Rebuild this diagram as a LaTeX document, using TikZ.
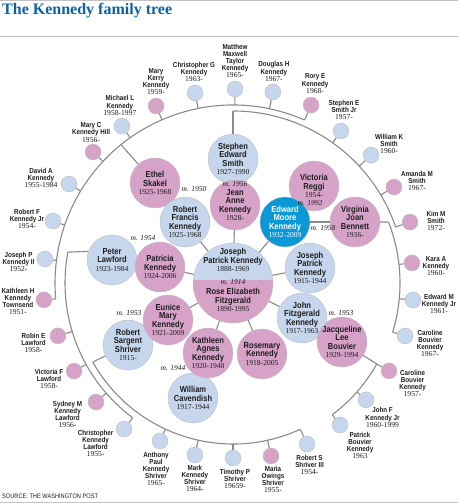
\documentclass[tikz,border=0pt]{standalone}
\usepackage{fontspec}
\setmainfont{Liberation Serif}
\newfontfamily\agate[FakeStretch=0.87]{Liberation Sans}
\usepackage{xcolor}
\usetikzlibrary{calc}
\definecolor{cBlue}  {HTML}{C6D6EC}
\definecolor{cPink}  {HTML}{D7A2C8}
\definecolor{cTed}   {HTML}{0A98D6}
\definecolor{cLine}  {HTML}{8A8A8A}
\definecolor{cRule}  {HTML}{C2C2C2}
\definecolor{cTitle} {HTML}{0A63A6}
\definecolor{cInk}   {HTML}{1E1E1E}
\newcommand{\yr}[1]{{\rmfamily\mdseries\fontsize{7.6}{7.6}\selectfont #1}}

\begin{document}
\begin{tikzpicture}[x=1pt, y=1pt,
    link/.style={draw=cLine, line width=1.1pt},
    parent/.style={circle, minimum size=50pt, inner sep=0pt, align=center,
      draw=black!25, line width=0.4pt, text=cInk,
      font=\agate\bfseries\fontsize{8.7}{8.3}\selectfont},
    kid/.style={circle, minimum size=16pt, inner sep=0pt, draw=black!25, line width=0.4pt},
    kidname/.style={align=center, inner sep=0pt, text=cInk,
      font=\agate\bfseries\fontsize{7.2}{7.2}\selectfont},
    wed/.style={inner sep=0pt, text=cInk, font=\itshape\fontsize{7.5}{8}\selectfont}]
  \useasboundingbox (0,0) rectangle (458,503);
  \draw[cRule, line width=1pt] (0,502.5) -- (458,502.5);
  \draw[cRule, line width=1pt] (0,466) -- (458,466);
  \draw[cRule, line width=1pt] (0,0.5) -- (458,0.5);
  \node[anchor=base west, inner sep=0pt, text=cTitle,
        font=\bfseries\fontsize{16}{18}\selectfont] (title) at (2,488) {The Kennedy family tree};
  \node[anchor=base west, inner sep=0pt, text=cInk,
        font=\agate\fontsize{6.5}{7}\selectfont] (source) at (2,4.5) {SOURCE: THE WASHINGTON POST};

  % Joseph and Rose
  \node[parent, minimum size=80pt, fill=cBlue,
        path picture={\fill[cPink] ($(path picture bounding box.west)+(0,3)$)
          rectangle (path picture bounding box.south east);}] (jpk) at (233,220) {};
  \node[parent, draw=none] (jpkName) at ($(jpk)+(0,23)$) {Joseph\\Patrick Kennedy\\\yr{1888-1969}};
  \node[parent, draw=none] (roseName) at ($(jpk)+(0,-17)$) {Rose Elizabeth\\Fitzgerald\\\yr{1890-1995}};

  % their children and the spouses
  \node[parent, fill=cBlue] (stephen)   at (233,344) {Stephen\\Edward\\Smith\\\yr{1927-1990}};
  \node[parent, fill=cPink] (jean)      at (235,298) {Jean\\Anne\\Kennedy\\\yr{1928-}};
  \node[parent, fill=cPink] (ethel)     at (155,320) {Ethel\\Skakel\\\yr{1925-1968}};
  \node[parent, fill=cBlue] (rfk)       at (185,281) {Robert\\Francis\\Kennedy\\\yr{1925-1968}};
  \node[parent, fill=cPink] (victoria)  at (314,317) {Victoria\\Reggi\\\yr{1954-}};
  \node[parent, fill=cTed, text=white] (ted) at (285,281) {Edward\\Moore\\Kennedy\\\yr{1932-2009}};
  \node[parent, fill=cPink] (virginia)  at (355,281) {Virginia\\Joan\\Bennett\\\yr{1936-}};
  \node[parent, fill=cBlue] (peter)     at (112,243) {Peter\\Lawford\\\yr{1923-1984}};
  \node[parent, fill=cPink] (patricia)  at (160,236) {Patricia\\Kennedy\\\yr{1924-2006}};
  \node[parent, fill=cBlue] (joejr)     at (310,235) {Joseph\\Patrick\\Kennedy\\\yr{1915-1944}};
  \node[parent, fill=cBlue] (jfk)       at (302,185) {John\\Fitzgerald\\Kennedy\\\yr{1917-1963}};
  \node[parent, fill=cPink] (jackie)    at (342,161) {Jacqueline\\Lee\\Bouvier\\\yr{1929-1994}};
  \node[parent, fill=cBlue] (shriver)   at (128,158) {Robert\\Sargent\\Shriver\\\yr{1915-}};
  \node[parent, fill=cPink] (eunice)    at (168,183) {Eunice\\Mary\\Kennedy\\\yr{1921-2009}};
  \node[parent, fill=cBlue] (cavendish) at (193,105) {William\\Cavendish\\\yr{1917-1944}};
  \node[parent, fill=cPink] (kathleen)  at (208,150) {Kathleen\\Agnes\\Kennedy\\\yr{1920-1948}};
  \node[parent, fill=cPink] (rosemary)  at (262,149) {Rosemary\\Kennedy\\\yr{1918-2005}};

  % grandchildren: name/angle/radius/arc radius/colour/label shift/text
  \foreach \nm/\ka/\kr/\rad/\col/\dx/\dy/\txt in {
      kathH/185.1/189.8/178/cPink/-26/-1.5/{Kathleen H\\Kennedy\\Townsend\\\yr{1951-}},
      joeII/172.7/189.5/178/cBlue/-26.5/-3/{Joseph P\\Kennedy II\\\yr{1952-}},
      rfkJr/161.0/190.4/178/cBlue/-26/2/{Robert F\\Kennedy Jr\\\yr{1954-}},
      david/148.9/191.6/178/cBlue/-28/6/{David A\\Kennedy\\\yr{1955-1984}},
      maryC/136.9/191.7/178/cPink/-2/19.5/{Mary C\\Kennedy Hill\\\yr{1956-}},
      michael/125.3/192.3/178/cBlue/-2/20.5/{Michael L\\Kennedy\\\yr{1958-1997}},
      kerry/113.5/193/178/cPink/0/24.5/{Mary\\Kerry\\Kennedy\\\yr{1959-}},
      chrisG/101.3/193.8/178/cBlue/-1/21/{Christopher G\\Kennedy\\\yr{1963-}},
      matthew/89.4/194/178/cBlue/0/28/{Matthew\\Maxwell\\Taylor\\Kennedy\\\yr{1965-}},
      douglas/78.2/195.1/178/cBlue/1/20.5/{Douglas H\\Kennedy\\\yr{1967-}},
      rory/66.3/194.3/178/cPink/4/21.5/{Rory E\\Kennedy\\\yr{1968-}},
      stephenJr/54.6/186.5/172/cBlue/3/21/{Stephen E\\Smith Jr\\\yr{1957-}},
      william/42.8/188.2/172/cBlue/18/11.5/{William K\\Smith\\\yr{1960-}},
      amanda/30.8/187.4/172/cPink/23/6/{Amanda M\\Smith\\\yr{1967-}},
      kim/19.0/187.2/172/cPink/26/1/{Kim M\\Smith\\\yr{1972-}},
      kara/6.4/180.1/167/cPink/24/-3/{Kara A\\Kennedy\\\yr{1960-}},
      tedJr/-5.4/180.8/167/cBlue/26/-4/{Edward M\\Kennedy Jr\\\yr{1961-}},
      carolineB/-17.1/180/167/cBlue/25/-7.5/{Caroline\\Bouvier\\Kennedy\\\yr{1967-}},
      caroline/-29.4/179.1/165/cPink/23.5/-12.5/{Caroline\\Bouvier\\Kennedy\\\yr{1957-}},
      johnJr/-41.3/177.1/165/cBlue/16.5/-17.7/{John F\\Kennedy Jr\\\yr{1960-1999}},
      patrick/-53.0/177.8/165/cBlue/20/-20.5/{Patrick\\Bouvier\\Kennedy\\\yr{1963}},
      robin/196.8/182.8/168/cPink/-24.5/-7/{Robin E\\Lawford\\\yr{1958-}},
      victoriaF/209.0/181.7/168/cPink/-25/-8/{Victoria F\\Lawford\\\yr{1958-}},
      sydney/221.0/181.5/168/cPink/-28.5/-12.5/{Sydney M\\Kennedy\\Lawford\\\yr{1956-}},
      chrisL/233.3/182.2/168/cBlue/-28.5/-14.5/{Christopher\\Kennedy\\Lawford\\\yr{1955-}},
      anthony/245.2/174/161/cBlue/-4/-28/{Anthony\\Paul\\Kennedy\\Shriver\\\yr{1965-}},
      mark/257.5/176.1/161/cBlue/0/-23.5/{Mark\\Kennedy\\Shriver\\\yr{1964-}},
      timothy/270/175/161/cBlue/2/-21/{Timothy P\\Shriver\\\yr{19659-}},
      maria/282.4/177.1/161/cPink/2/-23.5/{Maria\\Owings\\Shriver\\\yr{1955-}},
      bobIII/294.7/177.2/161/cBlue/2.5/-21/{Robert S\\Shriver III\\\yr{1954-}}}{
    \node[kid, fill=\col] (\nm) at ($(jpk.center)+(\ka:\kr)$) {};
    \coordinate (t-\nm) at ($(jpk.center)+(\ka:\rad)$);
    \draw[link] (t-\nm) -- (\nm);
    \node[kidname] (\nm-name) at ($(\nm)+(\dx,\dy)$) {\txt};
  }

  % one arc of children for each couple
  \coordinate (skakelJoin)  at ($(jpk.center)+(129:178)$);
  \coordinate (smithJoin)   at ($(jpk.center)+(90:172)$);
  \coordinate (bennettJoin) at ($(jpk.center)+(21.43:167)$);
  \coordinate (lawfordJoin) at ($(jpk.center)+(169.4:168)$);
  \coordinate (shriverJoin) at ($(jpk.center)+(209.4:161)$);
  \draw[link] (t-rory) arc[start angle=66.3, end angle=185.1, radius=178];
  \draw[link] (t-kim) arc[start angle=19, end angle=90, radius=172];
  \draw[link] (t-carolineB) arc[start angle=-17.1, end angle=21.43, radius=167];
  \draw[link] (t-patrick) arc[start angle=-53, end angle=-29.4, radius=165];
  \draw[link] (t-chrisL) arc[start angle=233.3, end angle=169.4, radius=168];
  \draw[link] (t-bobIII) arc[start angle=294.7, end angle=209.4, radius=161];
  \draw[link] (skakelJoin) -- (ethel);
  \draw[link] (smithJoin) -- (stephen);
  \draw[link] (virginia) -- (bennettJoin);
  \draw[link] (jackie) -- (t-caroline);
  \draw[link] (lawfordJoin) -- (peter.160);
  \draw[link] (shriverJoin) -- (shriver);
  \draw[link] (ted) -- (virginia);
  \foreach \c in {patricia,rfk,jean,ted,joejr,jfk,eunice,kathleen,rosemary}
    \draw[link] (jpk) -- (\c);

  % marriages
  \node[wed] (m1914) at ($(jpk)+(0,0.5)$) {m. 1914};
  \node[wed] (m1956) at ($(jean)+(0,21)$) {m. 1956};
  \node[wed] (m1950) at ($(ethel)+(39,-6)$) {m. 1950};
  \node[wed] (m1992) at ($(victoria)+(-4,-17)$) {m. 1992};
  \node[wed] (m1958) at ($(ted)+(38,-6)$) {m. 1958};
  \node[wed] (m1954) at ($(patricia)+(-17,29)$) {m. 1954};
  \node[wed] (m1953a) at ($(shriver)+(1,32)$) {m. 1953};
  \node[wed] (m1953b) at ($(jackie)+(-1,29)$) {m. 1953};
  \node[wed] (m1944) at ($(cavendish)+(-20,30)$) {m. 1944};
\end{tikzpicture}
\end{document}
